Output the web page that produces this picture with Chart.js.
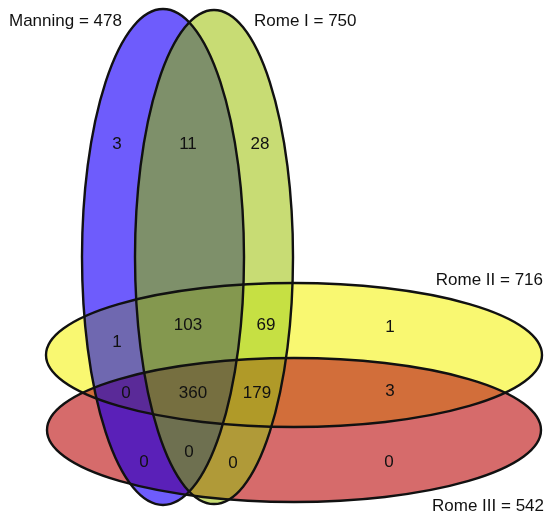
<!DOCTYPE html>
<html>
<head>
<meta charset="utf-8">
<script src="https://cdn.jsdelivr.net/npm/chart.js@4"></script>
<style>
  html, body { margin: 0; padding: 0; background: #fff; }
  #wrap { width: 547px; height: 517px; }
</style>
</head>
<body>
<div id="wrap"><canvas id="venn" width="547" height="517"></canvas></div>
<script>
// DATA
const setNames = ['Manning', 'Rome I', 'Rome II', 'Rome III'];
const setSizes = [478, 750, 716, 542];
// region membership as bitmask: Manning=1, Rome I=2, Rome II=4, Rome III=8
const regionMasks  = [1, 3, 2, 5, 7, 6, 4, 13, 15, 14, 12, 9, 11, 10, 8];
const regionCounts = [3, 11, 28, 1, 103, 69, 1, 0, 360, 179, 3, 0, 0, 0, 0];

// LAYOUT (pixel-like units of the 547x517 canvas)
const ellipses = [
    { cx: 163, cy: 257, rx: 81, ry: 248 },
    { cx: 214, cy: 257, rx: 79, ry: 247 },
    { cx: 294, cy: 355, rx: 248, ry: 72 },
    { cx: 294, cy: 430, rx: 247, ry: 72 }
];
const labelPos = {
    1: [117, 144], 3: [188, 144], 2: [260, 144],
    5: [117, 342], 7: [188, 325], 6: [266, 325], 4: [390, 327],
    13: [126, 393], 15: [193, 393], 14: [257, 393], 12: [390, 391],
    9: [144, 462], 11: [189, 452], 10: [233, 463], 8: [389, 462]
};
const titlePos = [
    { x: 9, y: 21, align: 'left' },
    { x: 254, y: 21, align: 'left' },
    { x: 543, y: 280, align: 'right' },
    { x: 544, y: 506, align: 'right' }
];
const regionColors = {
    1: '#6e5cfc', 2: '#c8dc74', 3: '#7e906a', 4: '#f9f871',
    5: '#6f68b0', 6: '#c6e043', 7: '#84984f', 8: '#d66b6b',
    9: '#5a20b8', 10: '#b09a38', 11: '#6e7050', 12: '#d26e3a',
    13: '#5a2a98', 14: '#b09a28', 15: '#766f40'
};
const FONT = '17px "Liberation Sans", Arial, Helvetica, sans-serif';

function ellipsePath(ctx, chart, e) {
    const xs = chart.scales.x, ys = chart.scales.y;
    const cx = xs.getPixelForValue(e.cx), cy = ys.getPixelForValue(e.cy);
    const rx = Math.abs(xs.getPixelForValue(e.cx + e.rx) - cx);
    const ry = Math.abs(ys.getPixelForValue(e.cy + e.ry) - cy);
    ctx.ellipse(cx, cy, rx, ry, 0, 0, Math.PI * 2);
}

const vennPlugin = {
    id: 'venn',
    beforeDatasetsDraw(chart) {
        const ctx = chart.ctx;
        const W = chart.width, H = chart.height;
        // fill every region with its own colour
        regionMasks.forEach(mask => {
            ctx.save();
            ellipses.forEach((e, i) => {
                ctx.beginPath();
                if (mask & (1 << i)) {
                    ellipsePath(ctx, chart, e);
                    ctx.clip();
                } else {
                    ctx.rect(0, 0, W, H);
                    ellipsePath(ctx, chart, e);
                    ctx.clip('evenodd');
                }
            });
            ctx.fillStyle = regionColors[mask];
            ctx.fillRect(0, 0, W, H);
            ctx.restore();
        });
        // outlines
        ctx.save();
        ctx.strokeStyle = '#111';
        ctx.lineWidth = 2.4;
        ellipses.forEach(e => {
            ctx.beginPath();
            ellipsePath(ctx, chart, e);
            ctx.stroke();
        });
        ctx.restore();
    },
    afterDatasetsDraw(chart) {
        const ctx = chart.ctx;
        ctx.save();
        ctx.font = FONT;
        ctx.fillStyle = '#111';
        ctx.textBaseline = 'middle';
        // region counts at the dataset points
        ctx.textAlign = 'center';
        chart.getDatasetMeta(0).data.forEach((pt, i) => {
            ctx.fillText(String(regionCounts[i]), pt.x, pt.y);
        });
        // set titles
        const xs = chart.scales.x, ys = chart.scales.y;
        setNames.forEach((name, i) => {
            const p = titlePos[i];
            ctx.textAlign = p.align;
            ctx.fillText(name + ' = ' + setSizes[i], xs.getPixelForValue(p.x), ys.getPixelForValue(p.y));
        });
        ctx.restore();
    }
};

new Chart(document.getElementById('venn'), {
    type: 'scatter',
    data: {
        datasets: [{
            data: regionMasks.map(m => ({ x: labelPos[m][0], y: labelPos[m][1] })),
            pointRadius: 0,
            pointHoverRadius: 0
        }]
    },
    options: {
        responsive: false,
        animation: false,
        layout: { padding: 0 },
        plugins: { legend: { display: false }, tooltip: { enabled: false } },
        scales: {
            x: { type: 'linear', min: 0, max: 547, display: false },
            y: { type: 'linear', min: 0, max: 517, reverse: true, display: false }
        }
    },
    plugins: [vennPlugin]
});
</script>
</body>
</html>
